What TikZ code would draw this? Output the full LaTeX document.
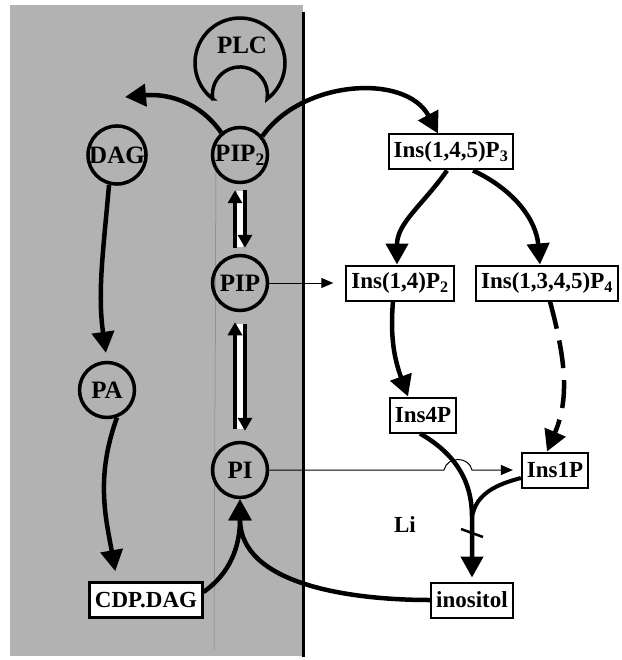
\documentclass[tikz,border=0pt]{standalone}
\usepackage{fontspec}
\setmainfont{Liberation Serif}
\usetikzlibrary{positioning,arrows.meta,calc}
\definecolor{cMem}{gray}{0.70}
\definecolor{cFaint}{gray}{0.50}
\tikzset{
  txt/.style={font=\fontsize{23}{26}\selectfont\bfseries},
  mol/.style={circle, draw, line width=3.5pt, minimum size=55pt, inner sep=0pt,
              font=\fontsize{25}{28}\selectfont\bfseries},
  ibox/.style={draw, line width=2pt, fill=white, inner xsep=5pt, inner ysep=0pt,
               minimum height=35pt, txt},
  ar/.style={-{Triangle[length=21pt,width=22pt]}, line width=4.5pt},
  ard/.style={ar, dash pattern=on 28pt off 12pt},
  arp/.style={-{Triangle[length=13pt,width=14pt]}, line width=4pt, shorten <=6pt, shorten >=6pt},
  art/.style={-{Triangle[length=12pt,width=10pt]}, line width=1pt},
  ln/.style={line width=4pt},
  lbl/.style={txt, inner sep=1pt},
}

\begin{document}
\begin{tikzpicture}[x=1pt,y=1pt]
  \useasboundingbox (0,0) rectangle (621,-660);
  \fill[cMem] (10,-5) rectangle (303,-656);
  \draw[cFaint, line width=0.5pt] (216,-160) -- (214,-650);
  \draw[line width=3pt] (303,-12) -- (303,-657);

  \draw[line width=3.5pt] (240,-63) ++(233:45) arc[start angle=233, end angle=-53, radius=45]
    arc[start angle=-9.4, end angle=189.4, radius=27.5] -- cycle;
  \node[lbl, font=\fontsize{25}{28}\selectfont\bfseries] (plc) at (242,-45) {PLC};

  \node[mol] (pip2) at (240,-155) {PIP\textsubscript{2}};
  \node[mol] (dag) at (117,-155) {DAG};
  \node[mol] (pip) at (240,-283) {PIP};
  \node[mol] (pa) at (107,-390) {PA};
  \node[mol] (pi) at (240,-470) {PI};
  \node[ibox, line width=3pt] (cdp) at (146,-600) {CDP.DAG};

  \node[ibox] (p3) at (451,-152) {Ins(1,4,5)P\textsubscript{3}};
  \node[ibox] (p2) at (400,-283) {Ins(1,4)P\textsubscript{2}};
  \node[ibox] (p4) at (547,-283) {Ins(1,3,4,5)P\textsubscript{4}};
  \node[ibox] (i4p) at (423,-415) {Ins4P};
  \node[ibox] (i1p) at (555,-470) {Ins1P};
  \node[ibox] (ino) at (472,-600) {inositol};
  \node[lbl] (li) at (405,-525) {Li};

  \coordinate (dagin) at (125,-97);
  \coordinate (jn) at (472,-517);

  \draw[ar] (pip2.130) to[out=125,in=5] (dagin);
  \draw[ar] (pip2.40) to[out=55,in=118] ([xshift=-13pt]p3.north);
  \draw[ar, shorten >=8pt] (dag.255) to[out=265,in=98] (pa.north);
  \draw[ar, shorten >=10pt] (pa.290) to[out=250,in=100] ([xshift=-29pt]cdp.north);
  \draw[ar] ([yshift=8pt]cdp.east) to[out=35,in=270] (pi.south);
  \draw[ar] (ino.west) to[out=180,in=270] (pi.south);

  \fill[white] ($(pip2.south)+(-3,-7)$) rectangle ($(pip.north)+(3,7)$);
  \fill[white] ($(pip.south)+(-3,-12)$) rectangle ($(pi.north)+(3,12)$);
  \draw[arp] ([xshift=-5pt]pip.north) -- ([xshift=-5pt]pip2.south);
  \draw[arp] ([xshift=5pt]pip2.south) -- ([xshift=5pt]pip.north);
  \draw[arp, shorten <=12pt, shorten >=10pt] ([xshift=-5pt]pi.north) -- ([xshift=-5pt]pip.south);
  \draw[arp, shorten <=12pt, shorten >=10pt] ([xshift=5pt]pip.south) -- ([xshift=5pt]pi.north);

  \draw[art, shorten >=12pt] (pip.east) -- (p2.west);
  \draw[art, shorten >=8pt] (pi.east) -- (444,-470) .. controls (447,-456) and (469,-456) .. (472,-470) -- (i1p.west);

  \draw[ar] ([xshift=-4pt]p3.south) to[out=235,in=90] ([xshift=-3pt]p2.north);
  \draw[ar] ([xshift=22pt]p3.south) to[out=-25,in=95] ([xshift=-7pt]p4.north);
  \draw[ar] ([xshift=-7pt]p2.south) to[out=265,in=110] ([xshift=-15pt]i4p.north);
  \draw[ard] ([xshift=3pt]p4.south) to[out=-75,in=67] ([xshift=-8pt]i1p.north);
  \draw[ar, shorten >=4pt] ([xshift=-3pt]i4p.south) to[out=-30,in=90] (jn) -- (ino.north);
  \draw[ln] ([yshift=-8pt]i1p.west) to[out=195,in=80] (jn);
  \draw[line width=2.5pt] ($(jn)+(-11,-12)$) -- ($(jn)+(11,-20)$);
\end{tikzpicture}
\end{document}
